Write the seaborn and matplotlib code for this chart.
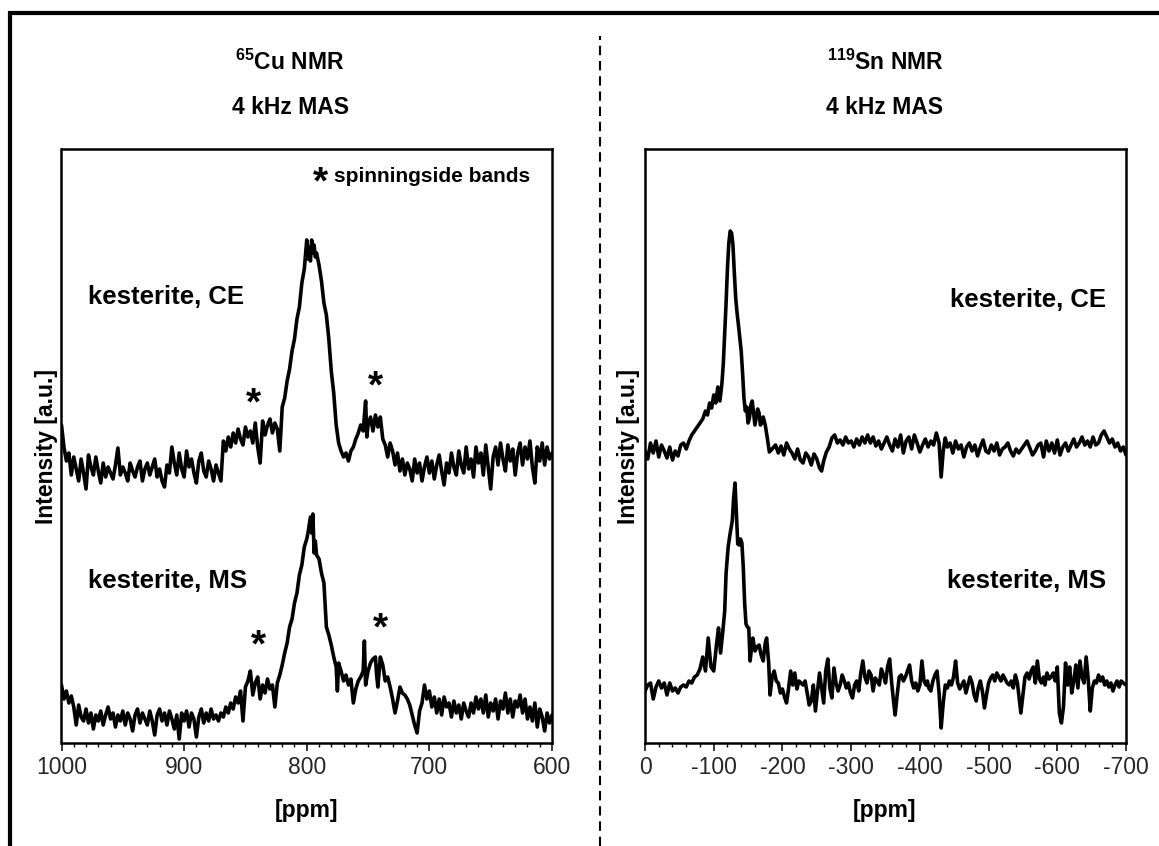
import numpy as np
import pandas as pd
import matplotlib
matplotlib.use("Agg")
import matplotlib.pyplot as plt
import seaborn as sns
from matplotlib.patches import Rectangle
from matplotlib.lines import Line2D
from matplotlib.ticker import MultipleLocator

# ---------------- data ----------------
cu_ce_ppm = [1000, 998, 996, 994, 992, 990, 988, 986, 984, 982,
             980, 978, 976, 974, 972, 970, 968, 966, 964, 962,
             960, 958, 956, 954, 952, 950, 948, 946, 944, 942,
             940, 938, 936, 934, 932, 930, 928, 926, 924, 922,
             920, 918, 916, 914, 912, 910, 908, 906, 904, 902,
             900, 898, 896, 894, 892, 890, 888, 886, 884, 882,
             880, 878, 876, 874, 872, 870, 868, 866, 864, 862,
             860, 858, 856, 854, 852, 850, 848, 846, 844, 842,
             840, 838, 836, 834, 832, 830, 828, 826, 824, 822,
             820, 818, 816, 814, 812, 810, 808, 806, 804, 802,
             800, 799, 798, 797, 796, 795, 794, 793, 792, 790,
             788, 786, 784, 782, 780, 778, 776, 774, 772, 770,
             768, 766, 764, 762, 760, 758, 756, 754, 752, 751,
             750, 748, 746, 744, 742, 740, 738, 736, 734, 732,
             730, 728, 726, 724, 722, 720, 718, 716, 714, 712,
             710, 708, 706, 704, 702, 700, 698, 696, 694, 692,
             690, 688, 686, 684, 682, 680, 678, 676, 674, 672,
             670, 668, 666, 664, 662, 660, 658, 656, 654, 652,
             650, 648, 646, 644, 642, 640, 638, 636, 634, 632,
             630, 628, 626, 624, 622, 620, 618, 616, 614, 612,
             610, 608, 606, 604, 602, 600]
cu_ce_int = [318, 296, 282, 290, 268, 286, 274, 262, 284, 270,
             254, 288, 276, 268, 286, 272, 260, 280, 266, 276,
             270, 264, 278, 295, 268, 276, 270, 262, 280, 272,
             266, 276, 282, 262, 274, 280, 268, 276, 284, 266,
             274, 262, 256, 278, 270, 296, 280, 268, 290, 274,
             266, 292, 276, 284, 270, 260, 282, 290, 272, 266,
             282, 274, 262, 278, 270, 262, 302, 292, 306, 296,
             310, 300, 314, 304, 298, 316, 306, 312, 300, 320,
             296, 280, 322, 308, 318, 324, 310, 320, 314, 292,
             336, 345, 362, 374, 392, 404, 424, 436, 460, 474,
             503, 484, 496, 482, 503, 490, 498, 486, 490, 478,
             462, 440, 428, 404, 372, 350, 318, 300, 292, 286,
             290, 282, 292, 296, 304, 310, 318, 312, 342, 306,
             318, 326, 312, 328, 316, 326, 304, 298, 286, 300,
             292, 278, 290, 272, 284, 268, 280, 274, 262, 284,
             270, 280, 262, 276, 286, 270, 282, 264, 278, 288,
             272, 258, 280, 270, 290, 276, 268, 292, 278, 270,
             296, 274, 284, 266, 296, 280, 290, 268, 298, 276,
             254, 286, 296, 278, 300, 284, 272, 298, 282, 294,
             268, 290, 300, 278, 296, 284, 302, 276, 260, 296,
             282, 300, 278, 296, 284, 290]

cu_ms_ppm = [1000, 998, 996, 994, 992, 990, 988, 986, 984, 982,
             980, 978, 976, 974, 972, 970, 968, 966, 964, 962,
             960, 958, 956, 954, 952, 950, 948, 946, 944, 942,
             940, 938, 936, 934, 932, 930, 928, 926, 924, 922,
             920, 918, 916, 914, 912, 910, 908, 906, 904, 902,
             900, 898, 896, 894, 892, 890, 888, 886, 884, 882,
             880, 878, 876, 874, 872, 870, 868, 866, 864, 862,
             860, 858, 856, 854, 852, 850, 848, 846, 844, 842,
             840, 838, 836, 834, 832, 830, 828, 826, 824, 822,
             820, 818, 816, 814, 812, 810, 808, 806, 804, 802,
             800, 799, 798, 797, 796, 795, 794, 793, 792, 790,
             788, 786, 784, 782, 780, 778, 776, 775, 774, 772,
             770, 768, 766, 764, 762, 760, 758, 756, 754, 753,
             752, 750, 748, 746, 744, 743, 742, 740, 738, 736,
             734, 732, 730, 728, 726, 724, 722, 720, 718, 716,
             714, 712, 710, 708, 706, 704, 702, 700, 698, 696,
             694, 692, 690, 688, 686, 684, 682, 680, 678, 676,
             674, 672, 670, 668, 666, 664, 662, 660, 658, 656,
             654, 652, 650, 648, 646, 644, 642, 640, 638, 636,
             634, 632, 630, 628, 626, 624, 622, 620, 618, 616,
             614, 612, 610, 608, 606, 604, 602, 600]
cu_ms_int = [58, 44, 52, 40, 47, 36, 18, 38, 26, 22,
             34, 20, 30, 14, 28, 22, 32, 18, 28, 36,
             24, 30, 16, 28, 22, 32, 18, 30, 24, 12,
             28, 34, 20, 30, 24, 18, 32, 22, 8, 28,
             34, 22, 30, 18, 32, 24, 14, 28, 4, 30,
             22, 32, 16, 30, 24, 6, 26, 34, 20, 30,
             22, 34, 24, 28, 22, 30, 26, 36, 30, 40,
             34, 46, 40, 52, 22, 56, 62, 72, 48, 60,
             66, 44, 58, 50, 64, 54, 58, 36, 60, 68,
             78, 90, 100, 116, 124, 140, 150, 168, 178, 196,
             204, 210, 218, 226, 210, 229, 190, 202, 188, 184,
             170, 160, 116, 108, 98, 86, 76, 52, 80, 72,
             62, 68, 58, 64, 40, 54, 62, 66, 72, 102,
             58, 72, 80, 84, 86, 68, 56, 86, 78, 62,
             66, 56, 44, 30, 42, 56, 50, 48, 44, 38,
             28, 18, 10, 32, 40, 58, 44, 52, 36, 46,
             30, 44, 28, 46, 36, 40, 26, 42, 30, 38,
             24, 40, 32, 26, 40, 30, 46, 34, 44, 30,
             48, 26, 40, 32, 44, 24, 42, 34, 50, 30,
             44, 26, 42, 36, 48, 30, 44, 24, 36, 22,
             40, 16, 34, 26, 12, 30, 20, 28]

sn_ce_ppm = [0, -4, -8, -12, -16, -20, -24, -28, -32, -36, -40, -44, -48, -52, -56, -60, -64, -68, -72, -76,
             -80, -84, -88, -91, -94, -97, -100, -103, -106, -109, -112, -114, -116, -118, -120, -122, -124, -126, -128, -130,
             -132, -134, -136, -138, -140, -142, -144, -146, -148, -150, -152, -154, -156, -158, -160, -162, -164, -166, -168, -170,
             -172, -175, -178, -181, -185, -190, -194, -198, -202, -206, -210, -214, -218, -222, -226, -230, -234, -238, -242, -246,
             -250, -254, -257, -260, -264, -268, -272, -276, -280, -284, -288, -292, -296, -300, -304, -308, -312, -316, -320, -324,
             -328, -332, -336, -340, -344, -348, -352, -356, -360, -364, -368, -372, -376, -380, -384, -388, -392, -396, -400, -404,
             -408, -412, -416, -420, -424, -428, -431, -434, -437, -440, -444, -448, -452, -456, -460, -464, -468, -472, -476, -480,
             -484, -488, -492, -496, -500, -504, -508, -512, -516, -520, -524, -528, -532, -536, -540, -544, -548, -552, -556, -560,
             -564, -568, -572, -576, -580, -584, -588, -592, -596, -600, -604, -608, -612, -616, -620, -624, -628, -632, -636, -640,
             -644, -648, -652, -656, -660, -664, -668, -672, -676, -680, -684, -688, -692, -696, -700]
sn_ce_int = [292, 284, 300, 290, 302, 286, 298, 292, 285, 296, 283, 292, 287, 298, 300, 294, 302, 308, 312, 316,
             320, 324, 332, 328, 340, 335, 348, 340, 356, 342, 360, 380, 410, 440, 475, 500, 512, 510, 498, 470,
             445, 430, 418, 405, 392, 370, 345, 332, 336, 320, 325, 338, 342, 330, 318, 326, 334, 330, 318, 320,
             326, 318, 305, 291, 294, 298, 290, 297, 288, 300, 294, 290, 284, 294, 283, 280, 290, 286, 278, 289,
             284, 275, 272, 282, 291, 296, 305, 308, 300, 303, 298, 306, 300, 302, 296, 304, 298, 306, 300, 308,
             300, 306, 297, 302, 294, 300, 306, 298, 292, 304, 296, 308, 290, 302, 306, 294, 308, 300, 291, 298,
             304, 296, 302, 298, 310, 300, 266, 292, 305, 296, 300, 290, 302, 294, 298, 286, 296, 300, 292, 298,
             287, 296, 303, 292, 290, 298, 292, 300, 288, 294, 296, 300, 292, 287, 294, 290, 294, 298, 302, 295,
             288, 292, 298, 300, 286, 302, 292, 300, 290, 303, 288, 296, 300, 292, 298, 304, 296, 300, 306, 298,
             302, 296, 306, 298, 300, 308, 312, 306, 300, 304, 296, 300, 292, 296, 288]

sn_ms_ppm = [0, -4, -8, -12, -16, -20, -24, -28, -32, -36, -40, -44, -48, -52, -56, -60, -64, -68, -72, -76,
             -80, -84, -88, -92, -96, -100, -104, -107, -110, -113, -116, -118, -121, -124, -127, -129, -131, -133, -135, -137,
             -139, -141, -143, -145, -147, -149, -151, -153, -155, -157, -160, -163, -166, -169, -172, -175, -177, -180, -182, -185,
             -188, -191, -194, -197, -200, -203, -206, -209, -212, -215, -218, -221, -224, -227, -230, -233, -236, -239, -242, -245,
             -248, -251, -254, -257, -260, -263, -266, -269, -272, -275, -278, -281, -284, -287, -290, -293, -296, -299, -302, -305,
             -308, -311, -314, -317, -320, -323, -326, -329, -332, -335, -338, -341, -344, -347, -350, -353, -356, -359, -362, -364,
             -367, -370, -373, -376, -379, -382, -385, -388, -391, -394, -397, -400, -403, -406, -409, -411, -413, -416, -419, -422,
             -425, -428, -431, -434, -437, -440, -443, -446, -449, -452, -455, -458, -461, -464, -467, -470, -473, -476, -479, -482,
             -485, -488, -491, -494, -497, -500, -503, -506, -509, -512, -515, -518, -521, -524, -527, -530, -533, -536, -539, -542,
             -545, -547, -550, -553, -556, -559, -562, -565, -568, -571, -574, -577, -580, -582, -585, -588, -591, -594, -597, -600,
             -603, -606, -609, -612, -615, -618, -621, -624, -627, -630, -633, -636, -639, -642, -645, -648, -651, -654, -657, -660,
             -663, -666, -669, -672, -675, -678, -681, -684, -687, -690, -693, -696, -700]
sn_ms_int = [52, 58, 60, 44, 56, 62, 55, 60, 48, 60, 52, 55, 50, 56, 58, 56, 62, 60, 66, 68,
             74, 86, 72, 105, 76, 72, 98, 115, 90, 110, 132, 170, 196, 210, 222, 245, 260, 230, 199, 198,
             204, 200, 176, 140, 119, 116, 115, 82, 95, 105, 92, 96, 98, 88, 82, 100, 105, 80, 48, 66,
             72, 62, 60, 50, 54, 46, 40, 55, 72, 58, 70, 54, 62, 60, 58, 62, 50, 38, 42, 58,
             32, 52, 70, 55, 40, 72, 84, 55, 45, 75, 60, 52, 58, 68, 62, 55, 60, 50, 45, 58,
             62, 52, 70, 82, 66, 60, 72, 68, 52, 65, 62, 58, 74, 68, 60, 76, 84, 60, 40, 28,
             48, 66, 68, 62, 66, 72, 78, 62, 55, 60, 52, 58, 82, 62, 58, 62, 55, 52, 62, 68,
             72, 50, 15, 40, 58, 55, 62, 58, 66, 82, 60, 54, 58, 62, 50, 58, 66, 60, 48, 42,
             55, 62, 52, 35, 48, 60, 65, 68, 62, 70, 66, 62, 68, 64, 60, 58, 62, 55, 68, 60,
             42, 30, 48, 66, 70, 64, 72, 76, 60, 82, 64, 60, 66, 58, 70, 64, 66, 70, 62, 76,
             30, 20, 36, 80, 58, 76, 50, 62, 78, 55, 82, 66, 60, 86, 64, 32, 55, 62, 60, 68,
             62, 66, 58, 62, 56, 60, 52, 58, 62, 56, 62, 60, 58]

cu_ticks = [1000, 900, 800, 700, 600]
sn_ticks = [0, -100, -200, -300, -400, -500, -600, -700]

# ---------------- figure ----------------
W, H = 1159, 846
sns.set_style("white")
plt.rcParams['font.family'] = ['Liberation Sans', 'DejaVu Sans']
plt.rcParams['mathtext.fontset'] = 'custom'
plt.rcParams['mathtext.rm'] = 'Liberation Sans:bold'
plt.rcParams['mathtext.it'] = 'Liberation Sans:bold'
plt.rcParams['mathtext.bf'] = 'Liberation Sans:bold'

fig = plt.figure(figsize=(W / 100, H / 100), dpi=100)


def fx(x):
    return x / W


def fy(y):
    return 1 - y / H


def make_axes(x0, x1, y0, y1):
    return fig.add_axes([fx(x0), fy(y1), fx(x1) - fx(x0), fy(y0) - fy(y1)])


axL = make_axes(61.5, 552, 149, 743)
axR = make_axes(645, 1126, 149, 743)

frames = [
    (axL, cu_ce_ppm, cu_ce_int, cu_ms_ppm, cu_ms_int, (1000, 600), cu_ticks, 10),
    (axR, sn_ce_ppm, sn_ce_int, sn_ms_ppm, sn_ms_int, (0, -700), sn_ticks, 20),
]
for ax, xa, ya, xb, yb, xlim, ticks, minor in frames:
    for xs, ys in ((xa, ya), (xb, yb)):
        df = pd.DataFrame({"ppm": xs, "intensity": ys})
        sns.lineplot(data=df, x="ppm", y="intensity", ax=ax, color="black",
                     linewidth=2.6, sort=False, estimator=None)
    ax.set_xlim(*xlim)
    ax.set_ylim(0, 594)
    ax.set_xticks(ticks)
    ax.set_xticklabels([str(t) for t in ticks])
    ax.xaxis.set_minor_locator(MultipleLocator(minor))
    ax.set_yticks([])
    ax.set_xlabel("")
    ax.set_ylabel("")
    ax.tick_params(axis="x", which="major", direction="out", length=5.5, width=1.1,
                   color="black", labelsize=16.5, pad=4)
    ax.tick_params(axis="x", which="minor", direction="out", length=3, width=1.0, color="black")
    ax.tick_params(axis="x", which="both", bottom=True)
    for sp in ax.spines.values():
        sp.set_visible(True)
        sp.set_color("black")
        sp.set_linewidth(1.8)
    ax.set_facecolor("white")

# ---------------- texts ----------------
bold = dict(fontweight="bold", color="black")
fig.text(fx(290), fy(62), r"$^{65}$Cu NMR", ha="center", va="center", fontsize=16.5, **bold)
fig.text(fx(290), fy(108), "4 kHz MAS", ha="center", va="center", fontsize=16.5, **bold)
fig.text(fx(885), fy(62), r"$^{119}$Sn NMR", ha="center", va="center", fontsize=16.5, **bold)
fig.text(fx(885), fy(108), "4 kHz MAS", ha="center", va="center", fontsize=16.5, **bold)

fig.text(fx(306), fy(810), "[ppm]", ha="center", va="center", fontsize=16.5, **bold)
fig.text(fx(885), fy(810), "[ppm]", ha="center", va="center", fontsize=16.5, **bold)
fig.text(fx(47), fy(446), "Intensity [a.u.]", ha="center", va="center", rotation=90, fontsize=16.5, **bold)
fig.text(fx(628), fy(446), "Intensity [a.u.]", ha="center", va="center", rotation=90, fontsize=16.5, **bold)

fig.text(fx(88), fy(297), "kesterite, CE", ha="left", va="center", fontsize=18.5, **bold)
fig.text(fx(88), fy(581), "kesterite, MS", ha="left", va="center", fontsize=18.5, **bold)
fig.text(fx(1106), fy(300), "kesterite, CE", ha="right", va="center", fontsize=18.5, **bold)
fig.text(fx(1106), fy(581), "kesterite, MS", ha="right", va="center", fontsize=18.5, **bold)

fig.text(fx(334), fy(177), "spinningside bands", ha="left", va="center", fontsize=15, **bold)
for (x, y) in [(320, 183), (253, 404), (375, 387), (258, 646), (380, 629)]:
    fig.text(fx(x), fy(y), "*", ha="center", va="center", fontsize=28, **bold)

# ---------------- outer frame and divider ----------------
fig.patches.append(Rectangle((fx(10), -0.2), 1.5, fy(13) + 0.2, transform=fig.transFigure,
                             fill=False, edgecolor="black", linewidth=3, clip_on=False))
fig.lines.append(Line2D([fx(600), fx(600)], [0, fy(36)], transform=fig.transFigure,
                        color="black", linewidth=1.5, linestyle=(0, (4.5, 2.8))))

fig.savefig("out.png", dpi=100, facecolor="white")
